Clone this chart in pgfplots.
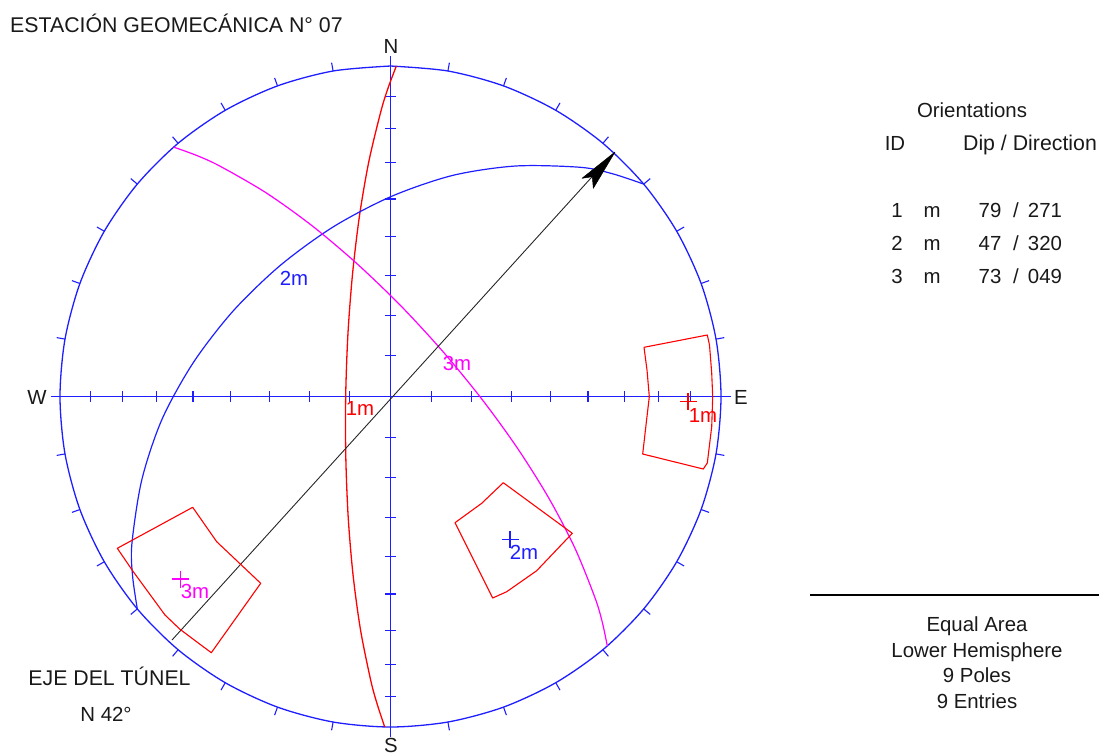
\documentclass[border=0pt]{standalone}
\usepackage{pgfplots}
\pgfplotsset{compat=1.18}
\usepackage{fontspec}
\setmainfont{Liberation Sans}
\definecolor{netblue}{RGB}{30,30,255}
\definecolor{netred}{RGB}{255,0,0}
\definecolor{netmag}{RGB}{255,0,255}
\definecolor{txt}{RGB}{25,25,25}
\begin{document}
\begin{tikzpicture}
\path[use as bounding box] (0,0) rectangle (1099pt,755pt);
\begin{axis}[
  at={(0,0)}, anchor=south west,
  scale only axis, width=1099pt, height=755pt,
  xmin=0, xmax=1099, ymin=0, ymax=755, y dir=reverse,
  hide axis, clip=false, unbounded coords=jump,
  every axis plot/.append style={mark=none, line join=round},
]
% primitive circle
\addplot[netblue, line width=1.3pt, smooth] coordinates {
(390.5,66)(447.9,71.0)(503.5,85.9)(555.75,110.3)(602.9,143.3)(643.7,184.1)(676.7,231.25)(701.1,283.5)(716,339.1)
(721,396.5)(716,453.9)(701.1,509.5)(676.7,561.75)(643.7,608.9)(602.9,649.7)(555.75,682.7)(503.5,707.1)(447.9,722)
(390.5,727)(333.1,722)(277.5,707.1)(225.25,682.7)(178.1,649.7)(137.3,608.9)(104.3,561.75)(79.9,509.5)(65,453.9)
(60,396.5)(65,339.1)(79.9,283.5)(104.3,231.25)(137.3,184.1)(178.1,143.3)(225.25,110.3)(277.5,85.9)(333.1,71)(390.5,66)};
% rim ticks
\addplot[netblue, line width=1.1pt] coordinates {
(447.9,71.0)(449.4,62.7)(nan,nan)(503.5,85.9)(506.4,77.9)(nan,nan)(555.75,110.3)(560,102.9)(nan,nan)(602.9,143.3)(608.4,136.8)(nan,nan)
(643.7,184.1)(650.2,178.6)(nan,nan)(676.7,231.25)(684.1,227)(nan,nan)(701.1,283.5)(709.1,280.6)(nan,nan)(716,339.1)(724.3,337.6)(nan,nan)
(716,453.9)(724.3,455.4)(nan,nan)(701.1,509.5)(709.1,512.4)(nan,nan)(676.7,561.75)(684.1,566)(nan,nan)(643.7,608.9)(650.2,614.4)(nan,nan)
(602.9,649.7)(608.4,656.3)(nan,nan)(555.75,682.7)(560,690.1)(nan,nan)(503.5,707.1)(506.4,715.1)(nan,nan)(447.9,722)(449.4,730.3)(nan,nan)
(333.1,722)(331.6,730.3)(nan,nan)(277.5,707.1)(274.6,715.1)(nan,nan)(225.25,682.7)(221,690.1)(nan,nan)(178.1,649.7)(172.6,656.3)(nan,nan)
(137.3,608.9)(130.8,614.4)(nan,nan)(104.3,561.75)(96.9,566)(nan,nan)(79.9,509.5)(71.9,512.4)(nan,nan)(65,453.9)(56.7,455.4)(nan,nan)
(65,339.1)(56.7,337.6)(nan,nan)(79.9,283.5)(71.9,280.6)(nan,nan)(104.3,231.25)(96.9,227)(nan,nan)(137.3,184.1)(130.8,178.6)(nan,nan)
(178.1,143.3)(172.6,136.8)(nan,nan)(225.25,110.3)(221,102.9)(nan,nan)(277.5,85.9)(274.6,77.9)(nan,nan)(333.1,71)(331.6,62.7)};
% diameters
\addplot[netblue, line width=1.3pt] coordinates {(51,396.5)(731,396.5)(nan,nan)(390.5,56)(390.5,737)};
\addplot[netblue, line width=1.1pt] coordinates {
(431.2,391)(431.2,402)(nan,nan)(471.7,391)(471.7,402)(nan,nan)(511.5,391)(511.5,402)(nan,nan)(550.4,391)(550.4,402)(nan,nan)
(588,391)(588,402)(nan,nan)(624.2,391)(624.2,402)(nan,nan)(658.6,391)(658.6,402)(nan,nan)(690.9,391)(690.9,402)(nan,nan)
(349.8,391)(349.8,402)(nan,nan)(309.3,391)(309.3,402)(nan,nan)(269.5,391)(269.5,402)(nan,nan)(230.6,391)(230.6,402)(nan,nan)
(193,391)(193,402)(nan,nan)(156.8,391)(156.8,402)(nan,nan)(122.4,391)(122.4,402)(nan,nan)(90.1,391)(90.1,402)(nan,nan)
(385,355.8)(396,355.8)(nan,nan)(385,315.3)(396,315.3)(nan,nan)(385,275.5)(396,275.5)(nan,nan)(385,236.6)(396,236.6)(nan,nan)
(385,199)(396,199)(nan,nan)(385,162.8)(396,162.8)(nan,nan)(385,128.4)(396,128.4)(nan,nan)(385,96.1)(396,96.1)(nan,nan)
(385,437.2)(396,437.2)(nan,nan)(385,477.7)(396,477.7)(nan,nan)(385,517.5)(396,517.5)(nan,nan)(385,556.4)(396,556.4)(nan,nan)
(385,594)(396,594)(nan,nan)(385,630.2)(396,630.2)(nan,nan)(385,664.6)(396,664.6)(nan,nan)(385,696.9)(396,696.9)};
% plane 1
\addplot[netred, line width=1.3pt, smooth] coordinates {
(384.7,726.9)(377.4,704.8)(370.95,681.3)(360.6,630.4)(353.1,575.4)(348.2,517.3)(345.8,457.0)(345.7,395.7)(347.9,334.5)(352.5,274.3)(359.4,216.4)(368.8,161.7)(380.9,111.3)(388.1,87.9)(396.3,66.1)};
% plane 2
\addplot[netblue, line width=1.2pt, smooth] coordinates {
(137.3,608.9)(132.6,576.2)(131.9,543.7)(141.8,479.8)(162.0,419.3)(193.3,362.6)(233.2,310.9)(280.4,265.3)(333.5,226.7)(391.4,196.4)(452.7,175.4)(515.7,166.0)(580.4,167.3)(612.3,173.7)(643.7,184.1)};
% plane 3
\addplot[netmag, line width=1.2pt, smooth] coordinates {
(173.7,147.1)(196.8,155.5)(219.9,166.1)(266.1,192.8)(311.9,225.6)(357.0,263.7)(400.8,305.8)(442.6,351.2)(481.7,398.9)(517.4,448.1)(548.8,498.1)(574.9,548.1)(594.9,597.5)(602.2,621.8)(607.3,645.9)};
% tunnel axis
\addplot[black!85, line width=0.9pt] coordinates {(172,640)(600,168)};
\addplot[black, fill=black, line width=0.5pt] coordinates {(615,152)(582,178.3)(592.3,176.7)(593.3,188.3)(615,152)};
% variability windows
\addplot[netred, line width=1.1pt] coordinates {(644,347.3)(707.3,335)(709.5,345)(711.7,373)(712.7,396.7)(711.7,426.7)(707.3,463)(703.3,469)(642.7,454)(646,425)(649.3,396.7)(647,370)(644,347.3)};
\addplot[netred, line width=1.1pt] coordinates {(503.3,482.7)(572.3,533.3)(536.7,570.7)(506.7,591.7)(492.7,598)(455,522.7)(481.7,503.3)(503.3,482.7)};
\addplot[netred, line width=1.1pt] coordinates {(192.7,507.3)(216.7,541.7)(260.7,583.3)(211.3,652.7)(180,629.3)(165,615)(133.3,571.7)(117.3,548.3)(192.7,507.3)};
% poles
\addplot[only marks, netred, mark=+, mark size=8.5pt, mark options={line width=1.2pt}] coordinates {(688,401.7)};
\addplot[only marks, netblue, mark=+, mark size=8.5pt, mark options={line width=1.2pt}] coordinates {(510,539.5)};
\addplot[only marks, netmag, mark=+, mark size=8.5pt, mark options={line width=1.2pt}] coordinates {(180.7,579)};
% text
\tikzset{t/.style={font=\fontsize{20.4}{22}\selectfont, inner sep=0pt, text=txt},
         c/.style={font=\fontsize{21.3}{23}\selectfont, inner sep=0pt, text=txt}}
\node[c, anchor=west] at (axis cs:10,23.5) {ESTACIÓN GEOMECÁNICA N° 07};
\node[t] at (axis cs:391,46) {N};
\node[t] at (axis cs:391,745) {S};
\node[t] at (axis cs:37,397) {W};
\node[t] at (axis cs:741,397) {E};
\node[c] at (axis cs:109.5,676.5) {EJE DEL TÚNEL};
\node[t] at (axis cs:106,714) {N 42°};
\node[t] at (axis cs:972,110.5) {Orientations};
\node[t] at (axis cs:895,143) {ID};
\node[c] at (axis cs:1030,145) {Dip / Direction};
\node[t] at (axis cs:897,210) {1};
\node[t] at (axis cs:897,243) {2};
\node[t] at (axis cs:897,276) {3};
\node[t] at (axis cs:932,212) {m};
\node[t] at (axis cs:932,245) {m};
\node[t] at (axis cs:932,278) {m};
\node[t] at (axis cs:990,210) {79};
\node[t] at (axis cs:990,243) {47};
\node[t] at (axis cs:990,276) {73};
\node[t] at (axis cs:1016,210) {/};
\node[t] at (axis cs:1016,243) {/};
\node[t] at (axis cs:1016,276) {/};
\node[t] at (axis cs:1045,210) {271};
\node[t] at (axis cs:1045,243) {320};
\node[t] at (axis cs:1045,276) {049};
\addplot[black, line width=1.1pt] coordinates {(810,595)(1099,595)};
\node[t] at (axis cs:977,626) {Equal Area};
\node[t] at (axis cs:977,652) {Lower Hemisphere};
\node[t] at (axis cs:977,675) {9 Poles};
\node[t] at (axis cs:977,701) {9 Entries};
\node[t, text=netred] at (axis cs:360,408) {1m};
\node[t, text=netred] at (axis cs:703,415) {1m};
\node[t, text=netblue] at (axis cs:294,278) {2m};
\node[t, text=netblue] at (axis cs:524,552) {2m};
\node[t, text=netmag] at (axis cs:457,363) {3m};
\node[t, text=netmag] at (axis cs:195,591) {3m};
\end{axis}
\end{tikzpicture}
\end{document}
